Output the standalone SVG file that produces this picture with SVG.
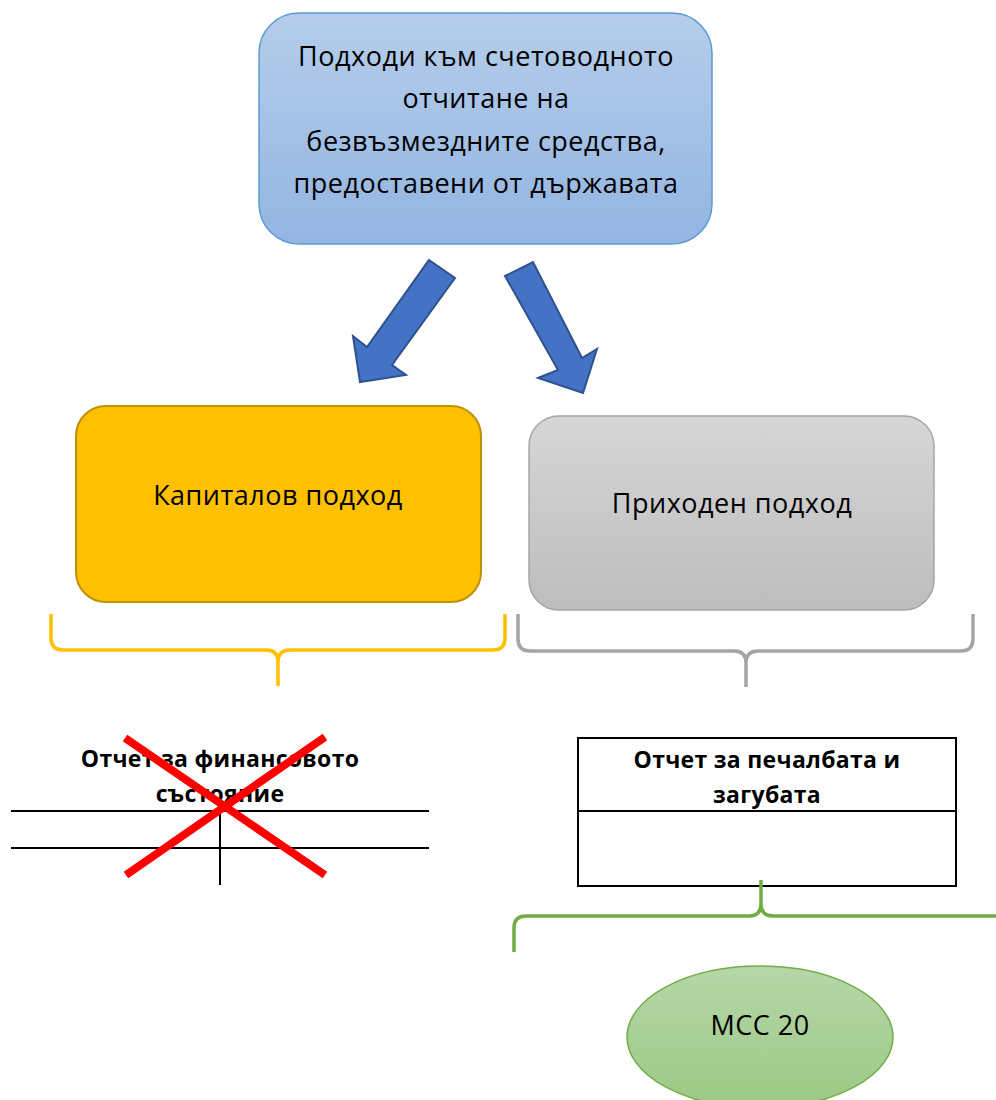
<svg xmlns="http://www.w3.org/2000/svg" width="996" height="1100" viewBox="0 0 996 1100">
<defs>
<linearGradient id="gBlue" x1="0" y1="0" x2="0" y2="1"><stop offset="0" stop-color="#b5cdea"/><stop offset="1" stop-color="#93b5e1"/></linearGradient>
<linearGradient id="gGray" x1="0" y1="0" x2="0" y2="1"><stop offset="0" stop-color="#d6d6d6"/><stop offset="1" stop-color="#bdbdbd"/></linearGradient>
<linearGradient id="gGreen" x1="0" y1="0" x2="0" y2="1"><stop offset="0" stop-color="#b6d6a8"/><stop offset="1" stop-color="#9bc985"/></linearGradient>
</defs>
<style>
text{font-family:"Open Sans","Liberation Sans",Arial,sans-serif;fill:#000;text-anchor:middle}
.t{font-size:27px;letter-spacing:0.5px}
.b{font-size:23px;font-weight:bold;letter-spacing:0.3px}
.arrow{fill:#4472c4;stroke:#2f528f;stroke-width:2;stroke-linejoin:miter}
.brace{fill:none;stroke-width:3.5;stroke-linecap:butt}
.tl{stroke:#000;stroke-width:2;fill:none}
.x{stroke:#ff0000;stroke-width:8}
</style>
<g id="top">
<rect x="259" y="13" width="453" height="231" rx="40" fill="url(#gBlue)" stroke="#5b9bd5" stroke-width="1.5"/>
<text class="t" x="486" y="66">Подходи към счетоводното</text>
<text class="t" x="486" y="108">отчитане на</text>
<text class="t" x="486" y="151">безвъзмездните средства,</text>
<text class="t" x="486" y="193">предоставени от държавата</text>
</g>
<g id="capital">
<rect x="76" y="406" width="405" height="196" rx="30" fill="#ffc000" stroke="#bf9000" stroke-width="2"/>
<text class="t" x="278" y="505">Капиталов подход</text>
</g>
<g id="income">
<rect x="529" y="416" width="405" height="194" rx="30" fill="url(#gGray)" stroke="#a5a5a5" stroke-width="1.5"/>
<text class="t" x="732" y="513">Приходен подход</text>
</g>
<g id="balance">
<text class="b" x="220" y="767">Отчет за финансовото</text>
<text class="b" x="220" y="802">състояние</text>
<path class="tl" d="M11 811H429M11 848H429M220 811V885"/>
<path class="x" d="M125 738L325 875M325 737L126 875"/>
</g>
<g id="pl">
<rect x="578" y="738" width="378" height="148" fill="#fff" stroke="#000" stroke-width="2"/>
<line x1="578" y1="811" x2="956" y2="811" stroke="#000" stroke-width="2"/>
<text class="b" x="767" y="768">Отчет за печалбата и</text>
<text class="b" x="767" y="803">загубата</text>
</g>
<g id="ias20">
<ellipse cx="760" cy="1037" rx="133" ry="71" fill="url(#gGreen)" stroke="#70ad47" stroke-width="1.5"/>
<text class="t" x="760" y="1035">МСС 20</text>
</g>
<g id="connectors">
<polygon class="arrow" points="429,260 455,278 392,365 406,375 360,382 353,336 367,347"/>
<polygon class="arrow" points="505,276 533,262 582,358 597,349 583,393 538,378 558,370"/>
<path class="brace" stroke="#ffc000" d="M51 614V638Q51 650 63 650H266Q278 650 278 662V686M505 614V638Q505 650 493 650H290Q278 650 278 662"/>
<path class="brace" stroke="#a5a5a5" d="M518 614V639Q518 651 530 651H734Q746 651 746 663V687M973 614V639Q973 651 961 651H758Q746 651 746 663"/>
<path class="brace" stroke="#70ad47" d="M514 952V928Q514 916 526 916H749Q761 916 761 904V880M996 916H773Q761 916 761 904"/>
</g>
</svg>
